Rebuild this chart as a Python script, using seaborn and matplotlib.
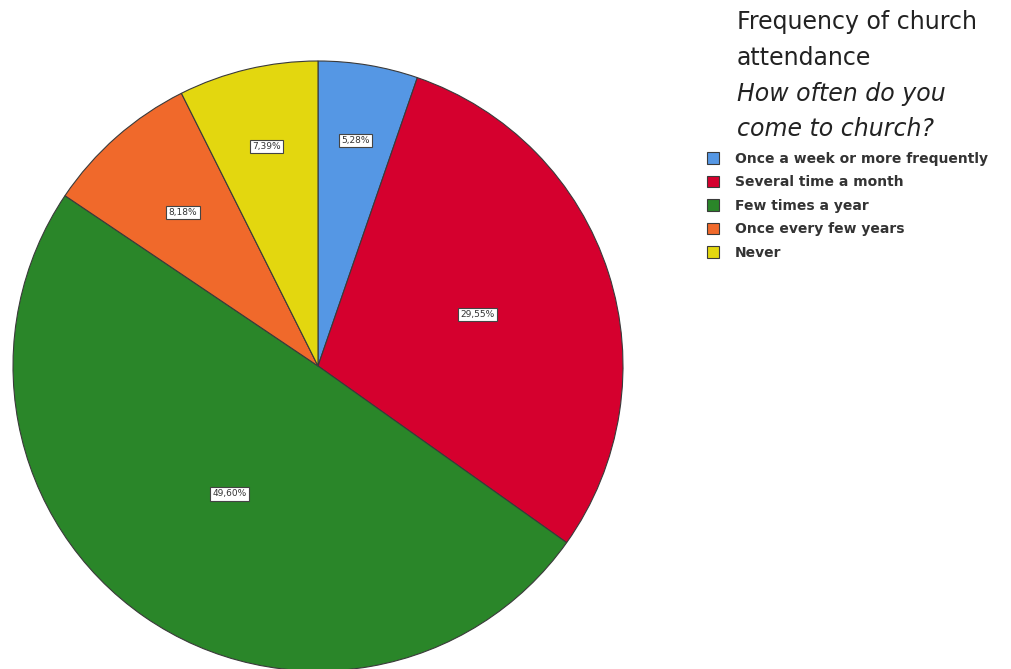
import numpy as np
import matplotlib
matplotlib.use('Agg')
import matplotlib.pyplot as plt
import seaborn as sns

sns.set_style('white')
plt.rcParams['font.family'] = ['DejaVu Sans']

## data
categories = ['Once a week or more frequently', 'Several time a month',
              'Few times a year', 'Once every few years', 'Never']
percents = [5.28, 29.55, 49.60, 8.18, 7.39]
colors = ['#5597E4', '#D5002E', '#2A8629', '#F0692B', '#E3D70F']
title_lines = ['Frequency of church', 'attendance']
subtitle_lines = ['How often do you', 'come to church?']

## label placement (fraction of radius) per wedge, roughly as in the picture
label_r = [0.75, 0.55, 0.51, 0.67, 0.74]

fig = plt.figure(figsize=(10.12, 6.69), dpi=100)
cx, cy, r = 318, 366, 305
ax = fig.add_axes([(cx - r) / 1012, (669 - cy - r) / 669, 2 * r / 1012, 2 * r / 669])

wedges, _ = ax.pie(percents, colors=colors, startangle=90, counterclock=False,
                   radius=1, wedgeprops=dict(edgecolor='#3a3a3a', linewidth=0.8))
ax.set_xlim(-1, 1)
ax.set_ylim(-1, 1)
ax.set_aspect('equal')
ax.axis('off')

for w, p, lr in zip(wedges, percents, label_r):
    ang = np.deg2rad((w.theta1 + w.theta2) / 2)
    ax.text(lr * np.cos(ang), lr * np.sin(ang), ('%.2f%%' % p).replace('.', ','),
            ha='center', va='center', fontsize=6.5, color='#333333',
            bbox=dict(boxstyle='square,pad=0.25', fc='white', ec='#444444', lw=0.8))

## legend title, one line at a time
ys = [22, 58, 94, 129]
for i, line in enumerate(title_lines + subtitle_lines):
    fig.text(737 / 1012, 1 - ys[i] / 669, line, ha='left', va='center',
             fontsize=17, color='#222222', style='italic' if i >= 2 else 'normal')

leg = fig.legend(wedges, categories, loc='upper left', bbox_to_anchor=(707 / 1012, 1 - 152 / 669),
                 frameon=False, prop=dict(size=10, weight='bold'),
                 handlelength=0.9, handleheight=0.9, borderpad=0,
                 handletextpad=1.1, labelspacing=0.68, borderaxespad=0)
for t in leg.get_texts():
    t.set_color('#333333')

fig.savefig('out.png', dpi=100)
